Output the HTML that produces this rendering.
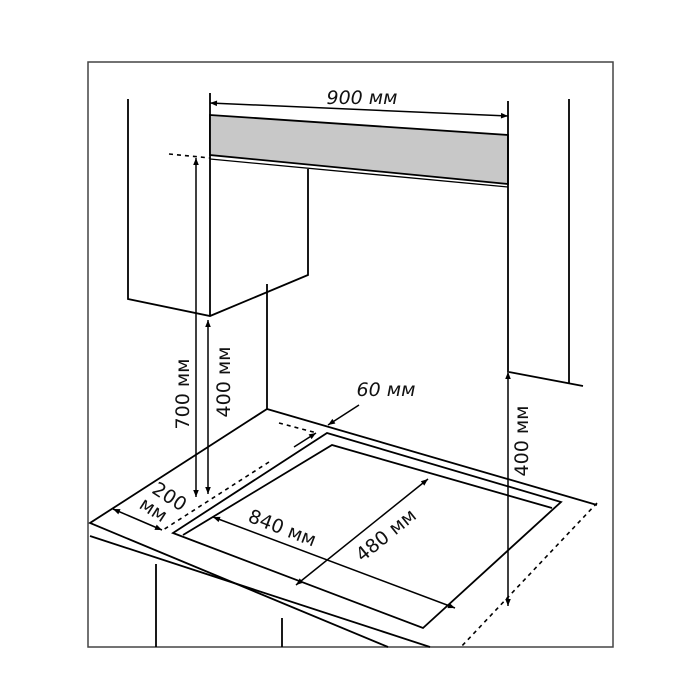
<!DOCTYPE html>
<html><head><meta charset="utf-8"><style>
html,body{margin:0;padding:0;background:#fff;}
svg{display:block;}
text{font-family:"DejaVu Sans","Liberation Sans",sans-serif;font-size:19px;fill:#111;}
</style></head><body>
<svg width="700" height="700" viewBox="0 0 700 700" xmlns="http://www.w3.org/2000/svg">
<defs>
<marker id="a" viewBox="0 0 10 10" refX="10" refY="5" markerWidth="10" markerHeight="7" orient="auto-start-reverse" markerUnits="userSpaceOnUse"><path d="M0,1 L10,5 L0,9 Z" fill="#000"/></marker>
</defs>
<rect x="88" y="62" width="525" height="585" fill="none" stroke="#444" stroke-width="1.5"/>
<g stroke="#000" stroke-width="1.8" fill="none">
<polyline points="128,99 128,299 210,316 308,275 308,169"/>
<line x1="210" y1="93" x2="210" y2="316"/>
<line x1="267" y1="284" x2="267" y2="409"/>
<polygon points="210,115 508,135 508,184 210,155" fill="#c8c8c8"/>
<line x1="210" y1="159" x2="508" y2="187" stroke-width="1.3"/>
<line x1="508" y1="101" x2="508" y2="372"/>
<line x1="569" y1="99" x2="569" y2="384"/>
<line x1="509" y1="372" x2="583" y2="386"/>
<polyline points="597,505 267,409 90,523 388,647"/>
<line x1="90" y1="536" x2="430" y2="647"/>
<line x1="156" y1="564" x2="156" y2="647"/>
<line x1="282" y1="618" x2="282" y2="647"/>
<polygon points="173,533 327,433 561,502 423,628"/>
<polyline points="552,508 332,445 183,535"/>
</g>
<g stroke="#000" stroke-width="1.6" fill="none" stroke-dasharray="4,4">
<line x1="169" y1="154" x2="210" y2="158"/>
<line x1="597" y1="503" x2="460" y2="648"/>
<line x1="269" y1="462" x2="163" y2="530"/>
<line x1="279" y1="423" x2="317" y2="433"/>
</g>
<g stroke="#000" stroke-width="1.5" fill="none">
<line x1="210" y1="103" x2="508" y2="116" marker-start="url(#a)" marker-end="url(#a)"/>
<line x1="196" y1="158" x2="196" y2="497" marker-start="url(#a)" marker-end="url(#a)"/>
<line x1="208" y1="320" x2="208" y2="494" marker-start="url(#a)" marker-end="url(#a)"/>
<line x1="508" y1="372" x2="508" y2="606" marker-start="url(#a)" marker-end="url(#a)"/>
<line x1="113" y1="509" x2="162" y2="530" marker-start="url(#a)" marker-end="url(#a)"/>
<line x1="213" y1="517" x2="455" y2="608" marker-start="url(#a)" marker-end="url(#a)"/>
<line x1="428" y1="479" x2="296" y2="585" marker-start="url(#a)" marker-end="url(#a)"/>
<line x1="294" y1="447" x2="316" y2="433" marker-end="url(#a)"/>
<line x1="359" y1="405" x2="328" y2="425" marker-end="url(#a)"/>
</g>
<g font-style="italic">
<text x="362" y="104" text-anchor="middle">900 мм</text>
<text x="386" y="396" text-anchor="middle">60 мм</text>
</g>
<text transform="translate(189,394) rotate(-90)" text-anchor="middle">700 мм</text>
<text transform="translate(230,382) rotate(-90)" text-anchor="middle">400 мм</text>
<text transform="translate(528,441) rotate(-90)" text-anchor="middle">400 мм</text>
<text transform="translate(166,502) rotate(33)" text-anchor="middle">200</text>
<text transform="translate(150,515) rotate(33)" text-anchor="middle">мм</text>
<text transform="translate(280,534) rotate(21)" text-anchor="middle">840 мм</text>
<text transform="translate(390,540) rotate(-39)" text-anchor="middle">480 мм</text>
</svg>
</body></html>
